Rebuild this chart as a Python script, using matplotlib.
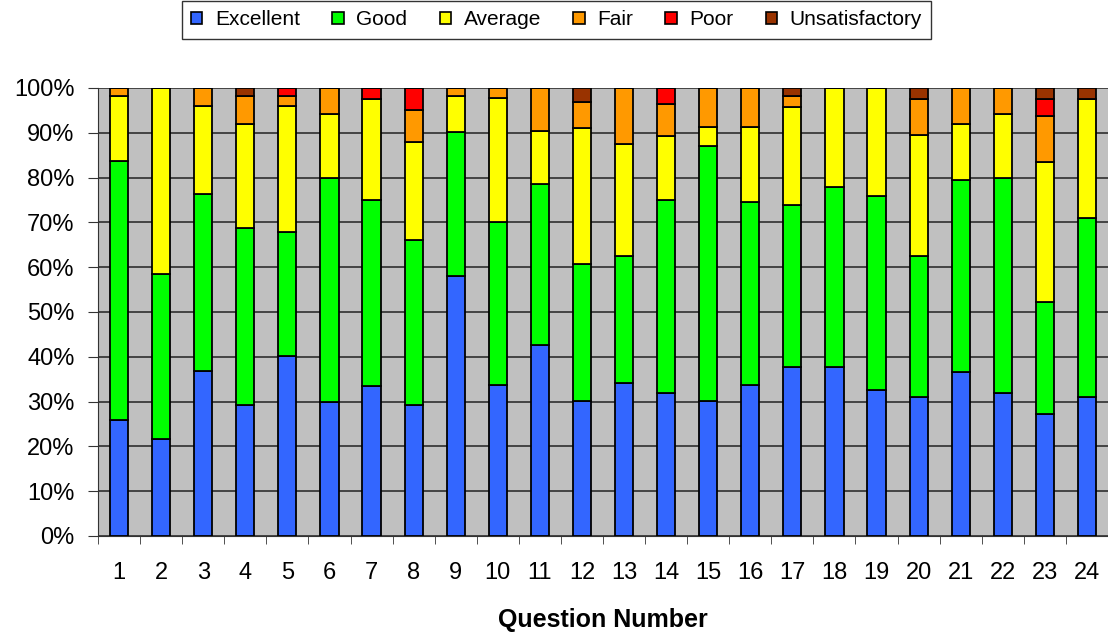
import numpy as np
import matplotlib
matplotlib.use("Agg")
import matplotlib.pyplot as plt
from matplotlib.patches import Patch

plt.rcParams['font.family'] = ['Liberation Sans', 'DejaVu Sans']

questions = [str(i) for i in range(1, 25)]
categories = ["Excellent", "Good", "Average", "Fair", "Poor", "Unsatisfactory"]
colors = ["#3366FF", "#00FF00", "#FFFF00", "#FF9900", "#FF0000", "#993300"]

# percentages per question
excellent = [25.8, 21.7, 36.9, 29.3, 40.1, 29.9, 33.5, 29.3, 58.0, 33.8, 42.7, 30.2,
             34.2, 32.0, 30.2, 33.8, 37.8, 37.8, 32.5, 31.1, 36.5, 32.0, 27.2, 31.1]
good = [58.0, 36.7, 39.4, 39.4, 27.7, 49.9, 41.4, 36.7, 32.2, 36.2, 35.8, 30.5,
        28.2, 42.9, 56.8, 40.7, 36.1, 40.2, 43.3, 31.3, 42.9, 47.8, 25.0, 39.9]
average = [14.5, 41.6, 19.6, 23.3, 28.1, 14.4, 22.7, 21.9, 8.1, 27.8, 12.0, 30.3,
           25.2, 14.3, 4.4, 16.9, 21.8, 22.0, 24.2, 27.2, 12.5, 14.4, 31.2, 26.6]
fair = [1.7, 0, 4.1, 6.3, 2.4, 5.8, 0, 7.1, 1.7, 2.2, 9.5, 5.8,
        12.4, 7.2, 8.6, 8.6, 2.6, 0, 0, 8.0, 8.1, 5.8, 10.3, 0]
poor = [0, 0, 0, 0, 1.7, 0, 2.4, 5.0, 0, 0, 0, 0,
        0, 3.6, 0, 0, 0, 0, 0, 0, 0, 0, 3.9, 0]
unsatisfactory = [0, 0, 0, 1.7, 0, 0, 0, 0, 0, 0, 0, 3.2,
                  0, 0, 0, 0, 1.7, 0, 0, 2.4, 0, 0, 2.4, 2.4]

series = [excellent, good, average, fair, poor, unsatisfactory]

fig = plt.figure(figsize=(11.08, 6.37), dpi=100)
ax = fig.add_axes([98 / 1108, 1 - 536 / 637, 1010 / 1108, 448 / 637])
ax.set_facecolor("#C0C0C0")

x = np.arange(len(questions))
bottom = np.zeros(len(questions))
for vals, col in zip(series, colors):
    vals = np.array(vals, dtype=float)
    ax.bar(x, vals, 0.43, bottom=bottom, color=col, edgecolor="black",
           linewidth=1.3, zorder=3)
    bottom += vals

ax.set_xlim(-0.5, len(questions) - 0.5)
ax.set_ylim(0, 100)
ax.set_yticks(np.arange(0, 101, 10))
ax.set_yticklabels([f"{v}%" for v in range(0, 101, 10)], fontsize=17)
ax.yaxis.grid(True, color="#222222", linewidth=1.1, zorder=1)

ax.set_xticks(x)
ax.set_xticklabels(questions, fontsize=17)
ax.set_xticks(np.arange(-0.5, len(questions)), minor=True)
ax.tick_params(axis="x", which="major", length=0, pad=19)
ax.tick_params(axis="x", which="minor", length=5.5, direction="out", color="#333333")
ax.tick_params(axis="y", length=7, direction="out", pad=10, color="#333333")
ax.set_xlabel("Question Number", fontsize=18, fontweight="bold", labelpad=17)

for s in ["top", "right"]:
    ax.spines[s].set_visible(False)
ax.spines["left"].set_color("#333333")
ax.spines["bottom"].set_color("#333333")

handles = [Patch(facecolor=c, edgecolor="black", linewidth=1.2) for c in colors]
leg = fig.legend(handles, categories, loc="upper center", bbox_to_anchor=(556.5 / 1108, 1.0),
                 ncol=6, fontsize=15, frameon=True, fancybox=False, edgecolor="black",
                 handlelength=0.55, handleheight=0.55, handletextpad=0.6,
                 columnspacing=1.55, borderpad=0.45, borderaxespad=0.05)
leg.get_frame().set_linewidth(1.0)

fig.savefig("out.png", dpi=100)
